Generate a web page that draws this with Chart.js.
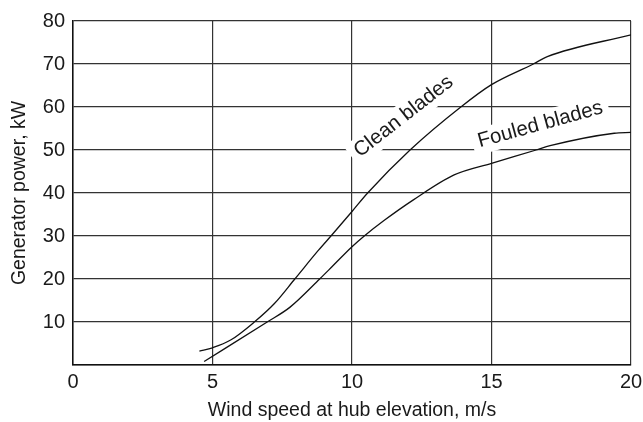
<!DOCTYPE html>
<html>
<head>
<meta charset="utf-8">
<script src="https://cdn.jsdelivr.net/npm/chart.js@4/dist/chart.umd.min.js"></script>
<style>
  html, body { margin: 0; background: #fff; }
</style>
</head>
<body>
<canvas id="chart" width="643" height="422"></canvas>
<script>
// power curves (wind speed m/s -> kW)
const cleanSpeed = [4.53, 5.0, 5.65, 6.5, 7.22, 7.95, 8.8, 9.3, 10, 10.56, 12.08, 13.9, 15, 16.5, 17, 20];
const cleanPower = [3.2, 4.0, 5.8, 10, 14.3, 20, 26.7, 30.4, 35.7, 40, 50, 60, 65.2, 70, 71.7, 76.8];
const fouledSpeed = [4.7, 6.96, 7.77, 8.84, 9.29, 10, 10.44, 11.17, 12.2, 13.66, 15, 16.6, 17.1, 19.4, 20];
const fouledPower = [0.8, 10, 13.4, 20, 22.9, 27.5, 30, 33.7, 38.4, 44.2, 46.9, 50, 51.0, 53.9, 54.1];
const xTicks = [0, 5, 10, 15, 20];
const yTicks = [0, 10, 20, 30, 40, 50, 60, 70, 80];

const FONT = "'Liberation Sans', Arial, Helvetica, sans-serif";

const toPoints = (xs, ys) => xs.map((x, i) => ({ x, y: ys[i] }));

// text written along each curve, on a white patch that hides the grid
const curveLabels = {
  id: 'curveLabels',
  beforeDatasetsDraw(chart) {
    const { ctx, scales: { x, y } } = chart;
    const items = [
      { text: 'Clean blades', at: [11.85, 57.8], angle: -38 },
      { text: 'Fouled blades', at: [16.75, 55.9], angle: -15.5 },
    ];
    ctx.save();
    ctx.font = '20.5px ' + FONT;
    items.forEach((it) => {
      const w = ctx.measureText(it.text).width;
      ctx.save();
      ctx.translate(x.getPixelForValue(it.at[0]), y.getPixelForValue(it.at[1]));
      ctx.rotate(it.angle * Math.PI / 180);
      ctx.fillStyle = '#fff';
      ctx.fillRect(-w / 2 - 6, -13, w + 12, 26);
      ctx.fillStyle = '#1a1a1a';
      ctx.textAlign = 'center';
      ctx.textBaseline = 'middle';
      ctx.fillText(it.text, 0, 0);
      ctx.restore();
    });
    ctx.restore();
  },
};

new Chart(document.getElementById('chart'), {
  type: 'line',
  data: {
    datasets: [
      {
        label: 'Clean blades',
        data: toPoints(cleanSpeed, cleanPower),
        borderColor: '#111',
        borderWidth: 1.3,
        pointRadius: 0,
        cubicInterpolationMode: 'monotone',
      },
      {
        label: 'Fouled blades',
        data: toPoints(fouledSpeed, fouledPower),
        borderColor: '#111',
        borderWidth: 1.3,
        pointRadius: 0,
        cubicInterpolationMode: 'monotone',
      },
    ],
  },
  options: {
    responsive: false,
    devicePixelRatio: 1,
    animation: false,
    layout: {
      padding: { top: 21, right: 12, left: 0, bottom: 0 },
    },
    plugins: {
      legend: { display: false },
      tooltip: { enabled: false },
    },
    scales: {
      x: {
        type: 'linear',
        min: 0,
        max: 20,
        afterBuildTicks: (scale) => { scale.ticks = xTicks.map((v) => ({ value: v })); },
        afterFit: (scale) => {
          scale.height = 57;
          scale.paddingLeft = 0;
          scale.paddingRight = 0;
        },
        grid: { color: '#333', lineWidth: 1.2, drawTicks: false },
        border: { color: '#111', width: 1.5 },
        ticks: {
          color: '#1a1a1a',
          padding: 5,
          font: { family: FONT, size: 20 },
        },
        title: {
          display: true,
          text: 'Wind speed at hub elevation, m/s',
          color: '#1a1a1a',
          padding: { top: 4, bottom: 0 },
          font: { family: FONT, size: 19.5 },
        },
      },
      y: {
        type: 'linear',
        min: 0,
        max: 80,
        afterBuildTicks: (scale) => { scale.ticks = yTicks.map((v) => ({ value: v })); },
        afterFit: (scale) => { scale.width = 73; },
        grid: { color: '#333', lineWidth: 1.2, drawTicks: false },
        border: { color: '#111', width: 1.5 },
        ticks: {
          color: '#1a1a1a',
          padding: 8,
          font: { family: FONT, size: 20 },
          callback: (v) => (v === 0 ? '' : v),
        },
        title: {
          display: true,
          text: 'Generator power, kW',
          color: '#1a1a1a',
          padding: { top: 8, bottom: 4 },
          font: { family: FONT, size: 19.5 },
        },
      },
    },
  },
  plugins: [curveLabels],
});
</script>
</body>
</html>
